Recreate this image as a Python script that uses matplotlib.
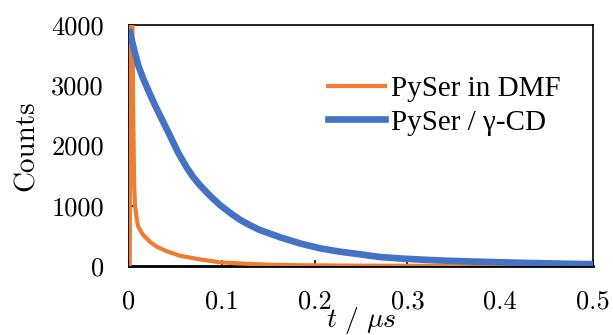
import matplotlib
matplotlib.use("Agg")
from matplotlib import pyplot as plt

# values (t in microseconds, counts)
t_dmf = [0.0008, 0.0016, 0.0028, 0.0045, 0.0055, 0.0065, 0.0085, 0.010, 0.015, 0.0226,
         0.030, 0.0406, 0.055, 0.0765, 0.098, 0.12, 0.15, 0.184, 0.25, 0.35, 0.5]
counts_dmf = [0, 5500, 6000, 2600, 1350, 1000, 760, 650, 520, 400,
              320, 245, 170, 110, 62, 42, 22, 12, 5, 2, 0]

t_cd = [0.0008, 0.003, 0.0065, 0.010, 0.015, 0.0226, 0.028, 0.034, 0.043, 0.053,
        0.062, 0.069, 0.0765, 0.087, 0.098, 0.11, 0.12, 0.13, 0.141, 0.163,
        0.184, 0.206, 0.227, 0.249, 0.27, 0.292, 0.32, 0.342, 0.37, 0.4,
        0.42, 0.45, 0.47, 0.5]
counts_cd = [3880, 3750, 3530, 3330, 3120, 2850, 2670, 2480, 2200, 1880,
             1640, 1480, 1340, 1170, 1012, 870, 763, 680, 597, 476,
             376, 293, 238, 194, 150, 125, 102, 88, 74, 62,
             54, 44, 38, 30]

labels = ['PySer in DMF', 'PySer / \u03b3-CD']
colors = ['#ED7D31', '#4472C4']

xticks = [0, 0.1, 0.2, 0.3, 0.4, 0.5]
xtick_labels = ['0', '0.1', '0.2', '0.3', '0.4', '0.5']
yticks = [0, 1000, 2000, 3000, 4000]
ytick_labels = ['0', '1000', '2000', '3000', '4000']

plt.rcParams['mathtext.fontset'] = 'cm'

fig = plt.figure(figsize=(6.13, 3.35), dpi=100)
ax = fig.add_axes([129/613, 1 - 266/335, (593 - 129)/613, (266 - 25)/335])

ax.plot(t_dmf, counts_dmf, color=colors[0], lw=3.0, zorder=3, label=labels[0],
        solid_joinstyle='round')
ax.plot(t_cd, counts_cd, color=colors[1], lw=4.8, zorder=3, label=labels[1],
        solid_joinstyle='round')

ax.set_xlim(0, 0.5)
ax.set_ylim(0, 4000)
ax.set_xticks(xticks)
ax.set_xticklabels(xtick_labels, family='cmr10', fontsize=19)
ax.set_yticks(yticks)
ax.set_yticklabels(ytick_labels, family='cmr10', fontsize=19)
ax.tick_params(axis='x', direction='in', length=4, width=1.2, pad=17)
ax.tick_params(axis='y', direction='in', length=4, width=1.2, pad=18)

for side in ['left', 'bottom']:
    ax.spines[side].set_linewidth(2.0)
for side in ['top', 'right']:
    ax.spines[side].set_linewidth(1.2)

ax.set_xlabel(r'$t\ /\ \mu s$', fontsize=20, labelpad=-6)
ax.set_ylabel('Counts', family='cmr10', fontsize=21, labelpad=8)

ax.legend(loc='center left', bbox_to_anchor=(0.429, 0.666), frameon=False,
          prop={'family': 'Liberation Serif', 'size': 21},
          handlelength=1.95, handletextpad=0.2, labelspacing=0.25,
          borderpad=0, borderaxespad=0)

fig.savefig('out.png', dpi=100)
